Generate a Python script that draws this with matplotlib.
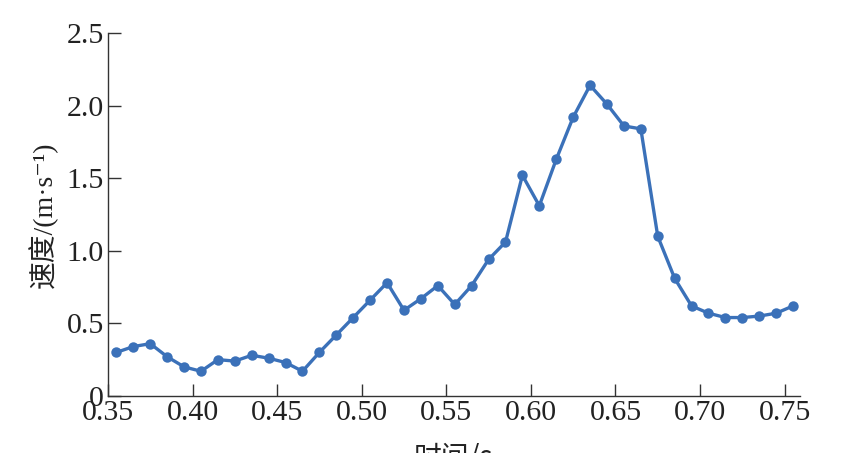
import numpy as np
import matplotlib.pyplot as plt

plt.rcParams['font.family'] = ['Liberation Serif', 'Noto Sans CJK SC', 'DejaVu Sans']

# time (s) and speed (m/s)
time_s = [0.355, 0.365, 0.375, 0.385, 0.395, 0.405, 0.415, 0.425, 0.435, 0.445,
          0.455, 0.465, 0.475, 0.485, 0.495, 0.505, 0.515, 0.525, 0.535, 0.545,
          0.555, 0.565, 0.575, 0.585, 0.595, 0.605, 0.615, 0.625, 0.635, 0.645,
          0.655, 0.665, 0.675, 0.685, 0.695, 0.705, 0.715, 0.725, 0.735, 0.745,
          0.755]
speed = [0.30, 0.34, 0.36, 0.27, 0.20, 0.17, 0.25, 0.24, 0.28, 0.26,
         0.23, 0.17, 0.30, 0.42, 0.54, 0.66, 0.78, 0.59, 0.67, 0.76,
         0.63, 0.76, 0.94, 1.06, 1.52, 1.31, 1.63, 1.92, 2.14, 2.01,
         1.86, 1.84, 1.10, 0.81, 0.62, 0.57, 0.54, 0.54, 0.55, 0.57,
         0.62]

xticks = [0.35, 0.40, 0.45, 0.50, 0.55, 0.60, 0.65, 0.70, 0.75]
yticks = [0, 0.5, 1.0, 1.5, 2.0, 2.5]
ytick_labels = ['0', '0.5', '1.0', '1.5', '2.0', '2.5']

fig = plt.figure(figsize=(8.5, 4.53), dpi=100)
ax = fig.add_axes([0.127, 0.126, 0.814, 0.801])

ax.plot(time_s, speed, color='#3b71b9', lw=2.4, marker='o', ms=7.5,
        markeredgewidth=0, solid_joinstyle='round')

ax.set_xlim(0.35, 0.759)
ax.set_ylim(0, 2.5)
ax.set_xticks(xticks)
ax.set_xticklabels(['%.2f' % v for v in xticks])
ax.set_yticks(yticks)
ax.set_yticklabels(ytick_labels)

for side in ['top', 'right']:
    ax.spines[side].set_visible(False)
for side in ['left', 'bottom']:
    ax.spines[side].set_linewidth(1.0)
    ax.spines[side].set_color('#333333')

ax.tick_params(direction='in', length=9, width=1.0, color='#333333',
               labelsize=21.5, labelcolor='#222222', pad=3)

ax.set_ylabel('速度/(m·s⁻¹)', fontsize=20, color='#222222',
              family=['Liberation Serif', 'Noto Sans CJK SC', 'DejaVu Sans'],
              labelpad=6)
# the reference crops the x label at the bottom edge
ax.set_xlabel('时间/s', fontsize=20, color='#222222',
              family=['Noto Sans CJK SC', 'Liberation Serif', 'DejaVu Sans'],
              labelpad=12)

fig.savefig('out.png', dpi=100)
